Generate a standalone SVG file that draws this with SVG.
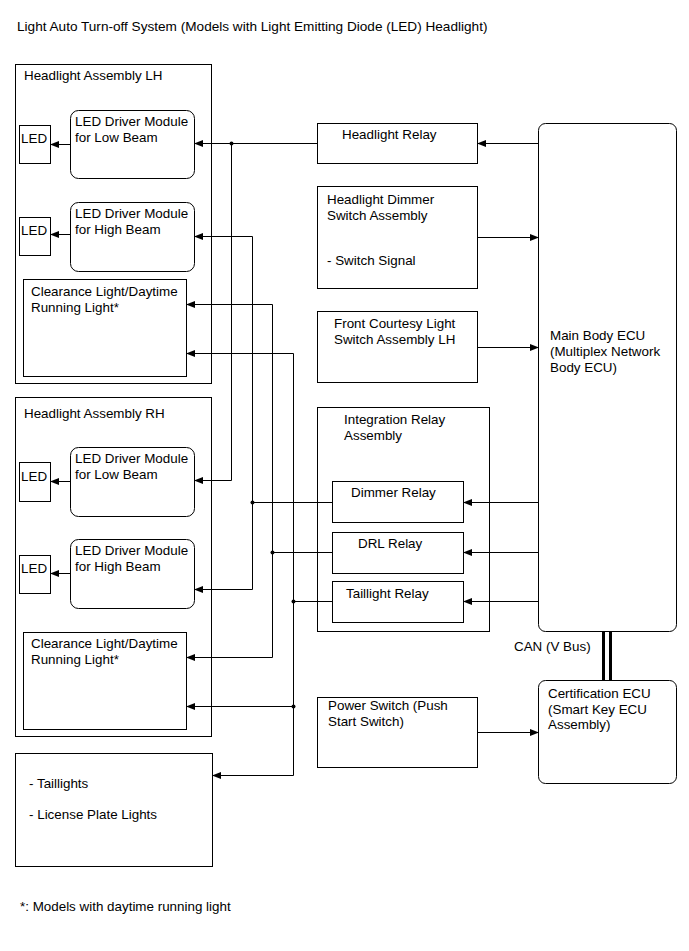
<svg xmlns="http://www.w3.org/2000/svg" width="689" height="951" viewBox="0 0 689 951">
<style>
text{font-family:"Liberation Sans",Arial,sans-serif;font-size:13.4px;fill:#000}
.t{font-size:13.6px}
.b{fill:#fff;stroke:#000;stroke-width:1}
.w{fill:none;stroke:#000;stroke-width:1}
.a{marker-end:url(#ah)}
.d{fill:#000}
</style>
<defs>
<marker id="ah" markerUnits="userSpaceOnUse" markerWidth="9" markerHeight="7" refX="8" refY="3.5" orient="auto-start-reverse">
<path d="M0,0 L9,3.5 L0,7 z" fill="#000"/>
</marker>
</defs>
<rect width="689" height="951" fill="#fff"/>
<text class="t" x="17" y="31">Light Auto Turn-off System (Models with Light Emitting Diode (LED) Headlight)</text>

<g id="hl-lh">
<rect class="b" x="15.5" y="64.5" width="196" height="319"/>
<text x="24" y="80">Headlight Assembly LH</text>
</g>
<g id="led-lh-low"><rect class="b" x="19.5" y="125.5" width="31" height="38"/><text x="21" y="143">LED</text></g>
<g id="drv-lh-low"><rect class="b" x="70.5" y="110.5" width="124" height="68" rx="8"/><text x="75" y="126">LED Driver Module</text><text x="75" y="142">for Low Beam</text></g>
<g id="led-lh-high"><rect class="b" x="19.5" y="217.5" width="31" height="38"/><text x="21" y="235">LED</text></g>
<g id="drv-lh-high"><rect class="b" x="70.5" y="202.5" width="124" height="69" rx="8"/><text x="75" y="218">LED Driver Module</text><text x="75" y="234">for High Beam</text></g>
<g id="cl-lh"><rect class="b" x="23.5" y="279.5" width="163" height="97"/><text x="31" y="296">Clearance Light/Daytime</text><text x="31" y="312">Running Light*</text></g>

<g id="hl-rh">
<rect class="b" x="15.5" y="397.5" width="196" height="339"/>
<text x="24" y="418">Headlight Assembly RH</text>
</g>
<g id="led-rh-low"><rect class="b" x="19.5" y="462.5" width="31" height="39"/><text x="21" y="481">LED</text></g>
<g id="drv-rh-low"><rect class="b" x="70.5" y="447.5" width="124" height="69" rx="8"/><text x="75" y="463">LED Driver Module</text><text x="75" y="479">for Low Beam</text></g>
<g id="led-rh-high"><rect class="b" x="19.5" y="555.5" width="31" height="38"/><text x="21" y="573">LED</text></g>
<g id="drv-rh-high"><rect class="b" x="70.5" y="539.5" width="124" height="69" rx="8"/><text x="75" y="555">LED Driver Module</text><text x="75" y="571">for High Beam</text></g>
<g id="cl-rh"><rect class="b" x="23.5" y="632.5" width="163" height="97"/><text x="31" y="648">Clearance Light/Daytime</text><text x="31" y="664">Running Light*</text></g>

<g id="taillights"><rect class="b" x="15.5" y="753.5" width="197" height="113"/><text x="29" y="788">- Taillights</text><text x="29" y="819">- License Plate Lights</text></g>

<g id="hl-relay"><rect class="b" x="317.5" y="123.5" width="160" height="40"/><text x="342" y="139">Headlight Relay</text></g>
<g id="dimmer-sw"><rect class="b" x="317.5" y="186.5" width="160" height="102"/><text x="327" y="204">Headlight Dimmer</text><text x="327" y="220">Switch Assembly</text><text x="327" y="265">- Switch Signal</text></g>
<g id="courtesy-sw"><rect class="b" x="317.5" y="311.5" width="160" height="71"/><text x="334" y="328">Front Courtesy Light</text><text x="334" y="344">Switch Assembly LH</text></g>
<g id="int-relay"><rect class="b" x="317.5" y="407.5" width="172" height="224"/><text x="344" y="424">Integration Relay</text><text x="344" y="440">Assembly</text></g>
<g id="dimmer-relay"><rect class="b" x="332.5" y="481.5" width="131" height="41"/><text x="351" y="497">Dimmer Relay</text></g>
<g id="drl-relay"><rect class="b" x="332.5" y="532.5" width="131" height="41"/><text x="358" y="548">DRL Relay</text></g>
<g id="tail-relay"><rect class="b" x="332.5" y="581.5" width="131" height="41"/><text x="346" y="598">Taillight Relay</text></g>
<g id="power-sw"><rect class="b" x="317.5" y="697.5" width="160" height="70"/><text x="328" y="710">Power Switch (Push</text><text x="328" y="726">Start Switch)</text></g>

<g id="main-ecu"><rect class="b" x="538.5" y="123.5" width="138" height="508" rx="7"/><text x="550" y="340">Main Body ECU</text><text x="550" y="356">(Multiplex Network</text><text x="550" y="372">Body ECU)</text></g>
<g id="cert-ecu"><rect class="b" x="538.5" y="680.5" width="138" height="103" rx="7"/><text x="548" y="698">Certification ECU</text><text x="548" y="714">(Smart Key ECU</text><text x="548" y="729">Assembly)</text></g>

<g id="connectors">
<path class="w a" d="M70,144.5 H51"/>
<path class="w a" d="M70,234.5 H51"/>
<path class="w a" d="M70,481.5 H51"/>
<path class="w a" d="M70,573.5 H51"/>

<path class="w a" d="M317,143.5 H195"/>
<path class="w a" d="M231.5,143.5 V480.5 H195"/>
<path class="w" d="M195,236.5 H252.5 V589.5 H195" style="marker-start:url(#ah);marker-end:url(#ah)"/>
<path class="w" d="M187,304.5 H272.5 V657.5 H187" style="marker-start:url(#ah);marker-end:url(#ah)"/>
<path class="w" d="M187,353.5 H293.5 V775.5 H213" style="marker-start:url(#ah);marker-end:url(#ah)"/>
<path class="w a" d="M293.5,706.5 H187"/>
<path class="w" d="M332,502.5 H252.5"/>
<path class="w" d="M332,552.5 H272.5"/>
<path class="w" d="M332,601.5 H293.5"/>
<circle class="d" cx="231.5" cy="143.5" r="2"/>
<circle class="d" cx="252.5" cy="502.5" r="2"/>
<circle class="d" cx="272.5" cy="552.5" r="2"/>
<circle class="d" cx="293.5" cy="601.5" r="2"/>
<circle class="d" cx="293.5" cy="706.5" r="2"/>

<path class="w a" d="M538,143.5 H478"/>
<path class="w a" d="M478,237.5 H538"/>
<path class="w a" d="M478,347.5 H538"/>
<path class="w a" d="M538,502.5 H464"/>
<path class="w a" d="M538,552.5 H464"/>
<path class="w a" d="M538,601.5 H464"/>
<path class="w a" d="M478,732.5 H538"/>

<rect x="602" y="632" width="3" height="48" fill="#000"/>
<rect x="609" y="632" width="3" height="48" fill="#000"/>
<text x="514" y="651">CAN (V Bus)</text>
</g>

<text x="20" y="911">*: Models with daytime running light</text>
</svg>
